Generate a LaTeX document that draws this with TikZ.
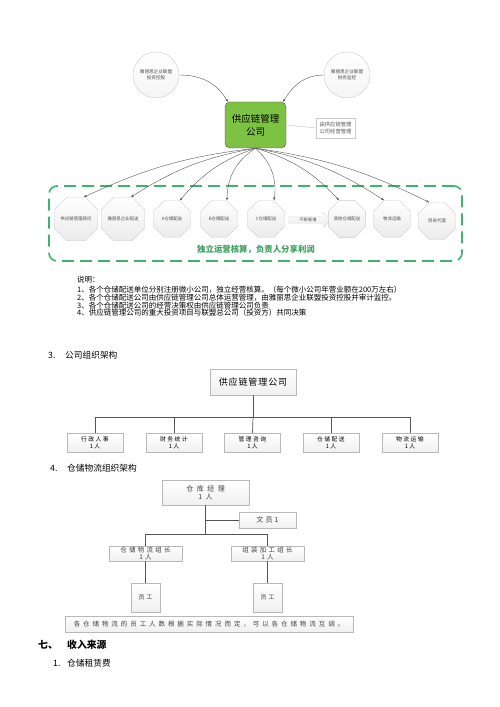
\documentclass[tikz,border=0pt]{standalone}
\usepackage{fontspec}
\setmainfont{Noto Sans CJK SC}
\usetikzlibrary{arrows.meta,shapes.geometric,shapes.arrows}

\definecolor{leafgreen}{HTML}{7DC242}
\definecolor{dashgreen}{HTML}{3DB36E}
\definecolor{textgreen}{HTML}{3AA160}
\definecolor{wire}{HTML}{555555}

\tikzset{
  owner/.style={circle, draw=gray!40, top color=white, bottom color=gray!8, minimum size=46pt, inner sep=0pt, align=center, text=gray!60!black, font=\fontsize{4.6}{6}\selectfont},
  hub/.style={draw=black!70, fill=leafgreen, rounded corners=5pt, minimum width=61pt, minimum height=46pt, align=center, font=\fontsize{9.5}{13}\selectfont},
  memo/.style={draw=gray!40, minimum width=39pt, minimum height=20pt, inner sep=1pt, align=left, text=gray!70!black, font=\fontsize{5.3}{7}\selectfont},
  unit/.style={regular polygon, regular polygon sides=8, minimum size=40pt, inner sep=0pt, draw=gray!40, top color=white, bottom color=gray!16, text=gray!60!black, font=\fontsize{4.4}{5}\selectfont},
  moreunits/.style={single arrow, minimum height=42pt, single arrow head extend=4pt, inner sep=1.3pt, draw=gray!25, top color=white, bottom color=gray!18, text=gray!60!black, font=\fontsize{4.3}{5}\selectfont},
  feed/.style={draw=wire, line width=0.4pt, -{Stealth[length=3pt,width=2.4pt]}},
  band/.style={draw=dashgreen, line width=1.6pt, dash pattern=on 12pt off 6pt, rounded corners=8pt, minimum width=413pt, minimum height=75pt},
  body/.style={anchor=west, inner sep=0pt, font=\fontsize{7.5}{9}\selectfont},
  head/.style={anchor=west, inner sep=0pt, font=\fontsize{8.7}{10}\selectfont},
  orgtop/.style={draw=gray!55, top color=white, bottom color=gray!12, minimum width=86pt, minimum height=26pt, font=\fontsize{9}{11}\selectfont\addfontfeatures{LetterSpace=10}},
  dept/.style={draw=gray!55, top color=white, bottom color=gray!12, minimum width=56pt, minimum height=19pt, inner sep=0pt, align=center, font=\fontsize{5.8}{7}\selectfont\addfontfeatures{LetterSpace=25}},
  post/.style={draw=gray!55, top color=white, bottom color=gray!12, inner sep=0pt, align=center, text=black!75},
  org/.style={draw=wire, line width=0.7pt},
}

\begin{document}
\begin{tikzpicture}[x=1pt, y=1pt]
\useasboundingbox (0,0) rectangle (500,707);

\node [owner] (invest) at (156,632) {雅丽思企业联盟\\投资控股};
\node [owner] (audit) at (347,632) {雅丽思企业联盟\\财务监控};
\node [hub] (scm) at (255.5,582) {供应链管理\\公司};
\node [memo] (run) at (335.5,579) {由供应链管理\\公司经营管理};
\draw [feed] (invest.east) to [out=0, in=120] ([xshift=3pt]scm.north west);
\draw [feed] (audit.west) to [out=180, in=60] ([xshift=-3pt]scm.north east);
\draw [gray!50] (scm.east) -- (run.west);

\node [band] (frame) at (255.5,483.5) {};
\node [unit] (u1) at (76,488) {供应链管理顾问};
\node [unit] (u2) at (123,488) {雅丽思企业配送};
\node [unit] (u3) at (172,488) {A仓储配送};
\node [unit] (u4) at (219,488) {B仓储配送};
\node [unit] (u5) at (266,488) {C仓储配送};
\node [moreunits] (more) at (308,487) {不断新增};
\node [unit] (u6) at (347,488) {其他仓储配送};
\node [unit] (u7) at (392,488) {物流运输};
\node [unit] (u8) at (437,486) {贸易代理};
\draw [feed] (scm.south) to [bend right=9] ([xshift=8pt]u1.north);
\draw [feed] (scm.south) to [bend right=11] ([xshift=8pt]u2.north);
\draw [feed] (scm.south) to [bend right=15] ([xshift=8pt]u3.north);
\draw [feed] (scm.south) to [bend right=28] ([xshift=8pt]u4.north);
\draw [feed] (scm.south) to [bend left=28] ([xshift=8pt]u5.north);
\draw [feed] (scm.south) to [bend left=15] ([xshift=-8pt]u6.north);
\draw [feed] (scm.south) to [bend left=11] ([xshift=-8pt]u7.north);
\draw [feed] (scm.south) to [bend left=9] ([xshift=-8pt]u8.north);
\node [text=textgreen, font=\fontsize{8.4}{10}\selectfont\bfseries] (slogan) at (256,457) {独立运营核算，负责人分享利润};

\node [body] (say) at (77,427) {说明：};
\node [body] (n1) at (77,417) {1、各个仓储配送单位分别注册微小公司，独立经营核算。（每个微小公司年营业额在200万左右）};
\node [body] (n2) at (77,409) {2、各个仓储配送公司由供应链管理公司总体运营管理，由雅丽思企业联盟投资控股并审计监控。};
\node [body] (n3) at (77,401) {3、各个仓储配送公司的经营决策权由供应链管理公司负责};
\node [body] (n4) at (77,394) {4、供应链管理公司的重大投资项目与联盟总公司（投资方）共同决策};

\node [head] (h3) at (48,352) {3.};
\node [head] (t3) at (65,352) {公司组织架构};
\node [orgtop] (company) at (253,325) {供应链管理公司};
\coordinate (bar1) at (253,290);
\node [dept] (d1) at (95,264.5) {行政人事\\1人};
\node [dept] (d2) at (174,264.5) {财务统计\\1人};
\node [dept] (d3) at (252.5,264.5) {管理咨询\\1人};
\node [dept] (d4) at (331,264.5) {仓储配送\\1人};
\node [dept] (d5) at (410,264.5) {物流运输\\1人};
\draw [org] (company.south) -- (bar1);
\draw [org] (bar1) -| (d1.north);
\draw [org] (bar1) -| (d2.north);
\draw [org] (bar1) -- (d3.north);
\draw [org] (bar1) -| (d4.north);
\draw [org] (bar1) -| (d5.north);

\node [head] (h4) at (50,239) {4.};
\node [head] (t4) at (67,239) {仓储物流组织架构};
\node [post, minimum width=87pt, minimum height=25pt, font=\fontsize{7}{8}\selectfont\addfontfeatures{LetterSpace=50}] (manager) at (205.5,214.5) {仓库经理\\1人};
\node [post, minimum width=57pt, minimum height=16pt, font=\fontsize{7}{8}\selectfont\addfontfeatures{LetterSpace=30}] (clerk) at (267.5,187) {文员1};
\coordinate (bar2) at (205.5,173);
\node [post, minimum width=73pt, minimum height=15pt, font=\fontsize{6.5}{6.5}\selectfont\addfontfeatures{LetterSpace=35}] (lead1) at (145.5,153.5) {仓储物流组长\\1人};
\node [post, minimum width=73pt, minimum height=15pt, font=\fontsize{6.5}{6.5}\selectfont\addfontfeatures{LetterSpace=35}] (lead2) at (267.5,153.5) {组装加工组长\\1人};
\node [post, minimum width=29pt, minimum height=29pt, font=\fontsize{6}{7}\selectfont\addfontfeatures{LetterSpace=30}] (staff1) at (145.5,109.5) {员工};
\node [post, minimum width=29pt, minimum height=29pt, font=\fontsize{6}{7}\selectfont\addfontfeatures{LetterSpace=30}] (staff2) at (267.5,109.5) {员工};
\node [post, minimum width=288pt, minimum height=16pt, font=\fontsize{6.5}{7}\selectfont\addfontfeatures{LetterSpace=45}] (remark) at (209,83) {各仓储物流的员工人数根据实际情况而定，可以各仓储物流互调。};
\draw [org] (manager.south) -- (bar2);
\draw [org] (clerk.west) -- (clerk.west -| manager.south);
\draw [org] (bar2) -| (lead1.north);
\draw [org] (bar2) -| (lead2.north);
\draw [org] (lead1.south) -- (staff1.north);
\draw [org] (lead2.south) -- (staff2.north);

\node [anchor=west, inner sep=0pt, font=\fontsize{9.8}{11}\selectfont\bfseries] (h7) at (38,62) {七、};
\node [anchor=west, inner sep=0pt, font=\fontsize{9.8}{11}\selectfont\bfseries] (t7) at (67,62) {收入来源};
\node [head] (h71) at (53,44) {1.};
\node [head] (t71) at (67,44) {仓储租赁费};
\end{tikzpicture}
\end{document}
